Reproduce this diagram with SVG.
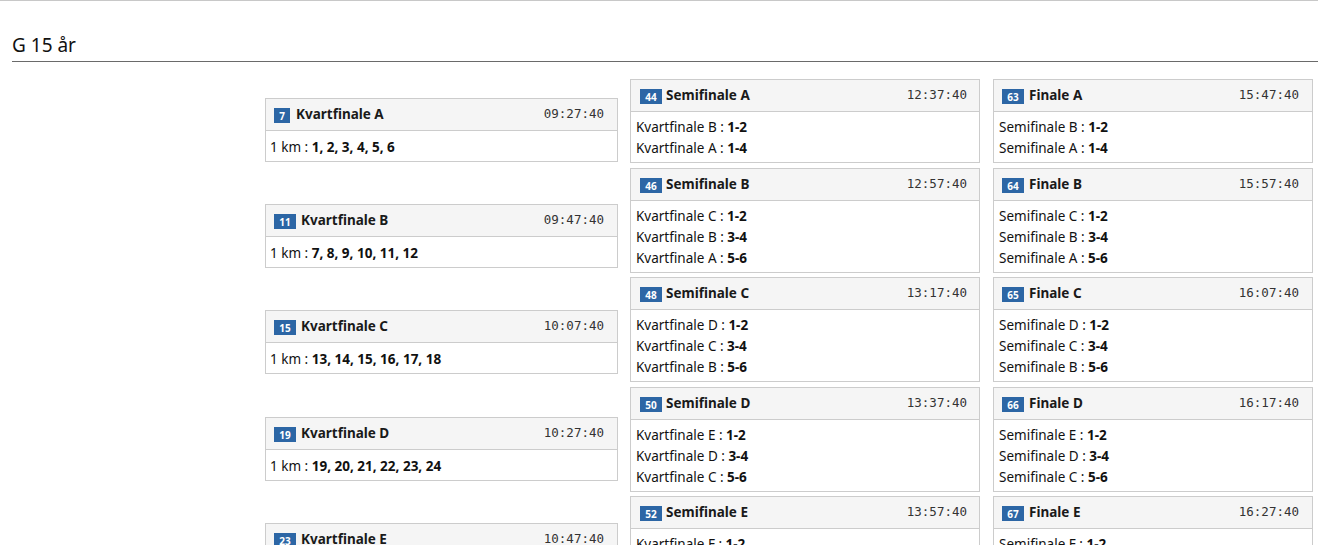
<svg xmlns="http://www.w3.org/2000/svg" width="1318" height="559" viewBox="0 0 1318 559">
<defs>
<style>
.box{fill:#fff;stroke:#cccccc;stroke-width:1}
.hd{fill:#f5f5f5;stroke:#cccccc;stroke-width:1}
.bd{fill:#2c66a5}
.bn{fill:#fff;font-family:"Noto Sans","DejaVu Sans",sans-serif;font-size:10px;font-weight:bold;text-anchor:middle}
.tt{fill:#1a1a1a;font-family:"Noto Sans","DejaVu Sans",sans-serif;font-size:13.5px;font-weight:bold}
.tm{fill:#333;font-family:"DejaVu Sans Mono","Liberation Mono",monospace;font-size:12.5px;text-anchor:end}
.tx{fill:#111;font-family:"Noto Sans","DejaVu Sans",sans-serif;font-size:13.5px}
.tx tspan{font-weight:bold}
</style>
<clipPath id="cut"><rect x="0" y="0" width="1318" height="545"/></clipPath>
</defs>
<rect x="0" y="0" width="1318" height="559" fill="#fff"/>
<line x1="0" y1="0.5" x2="1318" y2="0.5" stroke="#c8c8c8" stroke-width="1"/>
<text x="12" y="52" font-family="'Noto Sans','DejaVu Sans',sans-serif" font-size="19" fill="#111">G 15 år</text>
<line x1="12" y1="61.5" x2="1318" y2="61.5" stroke="#6a6a6a" stroke-width="1"/>
<g clip-path="url(#cut)">
<g id="kv-a">
<rect class="box" x="265.5" y="98.5" width="352" height="63"/>
<rect class="hd" x="265.5" y="98.5" width="352" height="32"/>
<rect class="bd" x="274" y="108" width="16" height="15"/><text class="bn" x="282" y="119.5">7</text>
<text class="tt" x="296" y="119">Kvartfinale A</text><text class="tm" x="604" y="118">09:27:40</text>
<text class="tx" x="270" y="151.5">1 km : <tspan>1, 2, 3, 4, 5, 6</tspan></text>
</g>
<g id="kv-b">
<rect class="box" x="265.5" y="204.5" width="352" height="63"/>
<rect class="hd" x="265.5" y="204.5" width="352" height="32"/>
<rect class="bd" x="274" y="214" width="22" height="15"/><text class="bn" x="285" y="225.5">11</text>
<text class="tt" x="301" y="225">Kvartfinale B</text><text class="tm" x="604" y="224">09:47:40</text>
<text class="tx" x="270" y="257.5">1 km : <tspan>7, 8, 9, 10, 11, 12</tspan></text>
</g>
<g id="kv-c">
<rect class="box" x="265.5" y="310.5" width="352" height="63"/>
<rect class="hd" x="265.5" y="310.5" width="352" height="32"/>
<rect class="bd" x="274" y="320" width="22" height="15"/><text class="bn" x="285" y="331.5">15</text>
<text class="tt" x="301" y="331">Kvartfinale C</text><text class="tm" x="604" y="330">10:07:40</text>
<text class="tx" x="270" y="363.5">1 km : <tspan>13, 14, 15, 16, 17, 18</tspan></text>
</g>
<g id="kv-d">
<rect class="box" x="265.5" y="417.5" width="352" height="63"/>
<rect class="hd" x="265.5" y="417.5" width="352" height="32"/>
<rect class="bd" x="274" y="427" width="22" height="15"/><text class="bn" x="285" y="438.5">19</text>
<text class="tt" x="301" y="438">Kvartfinale D</text><text class="tm" x="604" y="437">10:27:40</text>
<text class="tx" x="270" y="470.5">1 km : <tspan>19, 20, 21, 22, 23, 24</tspan></text>
</g>
<g id="kv-e">
<rect class="box" x="265.5" y="523.5" width="352" height="63"/>
<rect class="hd" x="265.5" y="523.5" width="352" height="32"/>
<rect class="bd" x="274" y="533" width="22" height="15"/><text class="bn" x="285" y="544.5">23</text>
<text class="tt" x="301" y="544">Kvartfinale E</text><text class="tm" x="604" y="543">10:47:40</text>
</g>
<g id="sf-a">
<rect class="box" x="630.5" y="79.5" width="349" height="83"/>
<rect class="hd" x="630.5" y="79.5" width="349" height="32"/>
<rect class="bd" x="640" y="89" width="22" height="15"/><text class="bn" x="651" y="100.5">44</text>
<text class="tt" x="666" y="100">Semifinale A</text><text class="tm" x="967" y="99">12:37:40</text>
<text class="tx" x="636" y="132">Kvartfinale B : <tspan>1-2</tspan></text>
<text class="tx" x="636" y="153">Kvartfinale A : <tspan>1-4</tspan></text>
</g>
<g id="sf-b">
<rect class="box" x="630.5" y="168.5" width="349" height="104"/>
<rect class="hd" x="630.5" y="168.5" width="349" height="32"/>
<rect class="bd" x="640" y="178" width="22" height="15"/><text class="bn" x="651" y="189.5">46</text>
<text class="tt" x="666" y="189">Semifinale B</text><text class="tm" x="967" y="188">12:57:40</text>
<text class="tx" x="636" y="221">Kvartfinale C : <tspan>1-2</tspan></text>
<text class="tx" x="636" y="242">Kvartfinale B : <tspan>3-4</tspan></text>
<text class="tx" x="636" y="263">Kvartfinale A : <tspan>5-6</tspan></text>
</g>
<g id="sf-c">
<rect class="box" x="630.5" y="277.5" width="349" height="104"/>
<rect class="hd" x="630.5" y="277.5" width="349" height="32"/>
<rect class="bd" x="640" y="287" width="22" height="15"/><text class="bn" x="651" y="298.5">48</text>
<text class="tt" x="666" y="298">Semifinale C</text><text class="tm" x="967" y="297">13:17:40</text>
<text class="tx" x="636" y="330">Kvartfinale D : <tspan>1-2</tspan></text>
<text class="tx" x="636" y="351">Kvartfinale C : <tspan>3-4</tspan></text>
<text class="tx" x="636" y="372">Kvartfinale B : <tspan>5-6</tspan></text>
</g>
<g id="sf-d">
<rect class="box" x="630.5" y="387.5" width="349" height="104"/>
<rect class="hd" x="630.5" y="387.5" width="349" height="32"/>
<rect class="bd" x="640" y="397" width="22" height="15"/><text class="bn" x="651" y="408.5">50</text>
<text class="tt" x="666" y="408">Semifinale D</text><text class="tm" x="967" y="407">13:37:40</text>
<text class="tx" x="636" y="440">Kvartfinale E : <tspan>1-2</tspan></text>
<text class="tx" x="636" y="461">Kvartfinale D : <tspan>3-4</tspan></text>
<text class="tx" x="636" y="482">Kvartfinale C : <tspan>5-6</tspan></text>
</g>
<g id="sf-e">
<rect class="box" x="630.5" y="496.5" width="349" height="104"/>
<rect class="hd" x="630.5" y="496.5" width="349" height="32"/>
<rect class="bd" x="640" y="506" width="22" height="15"/><text class="bn" x="651" y="517.5">52</text>
<text class="tt" x="666" y="517">Semifinale E</text><text class="tm" x="967" y="516">13:57:40</text>
<text class="tx" x="636" y="549">Kvartfinale F : <tspan>1-2</tspan></text>
</g>
<g id="fi-a">
<rect class="box" x="993.5" y="79.5" width="319" height="83"/>
<rect class="hd" x="993.5" y="79.5" width="319" height="32"/>
<rect class="bd" x="1002" y="89" width="22" height="15"/><text class="bn" x="1013" y="100.5">63</text>
<text class="tt" x="1029" y="100">Finale A</text><text class="tm" x="1299" y="99">15:47:40</text>
<text class="tx" x="999" y="132">Semifinale B : <tspan>1-2</tspan></text>
<text class="tx" x="999" y="153">Semifinale A : <tspan>1-4</tspan></text>
</g>
<g id="fi-b">
<rect class="box" x="993.5" y="168.5" width="319" height="104"/>
<rect class="hd" x="993.5" y="168.5" width="319" height="32"/>
<rect class="bd" x="1002" y="178" width="22" height="15"/><text class="bn" x="1013" y="189.5">64</text>
<text class="tt" x="1029" y="189">Finale B</text><text class="tm" x="1299" y="188">15:57:40</text>
<text class="tx" x="999" y="221">Semifinale C : <tspan>1-2</tspan></text>
<text class="tx" x="999" y="242">Semifinale B : <tspan>3-4</tspan></text>
<text class="tx" x="999" y="263">Semifinale A : <tspan>5-6</tspan></text>
</g>
<g id="fi-c">
<rect class="box" x="993.5" y="277.5" width="319" height="104"/>
<rect class="hd" x="993.5" y="277.5" width="319" height="32"/>
<rect class="bd" x="1002" y="287" width="22" height="15"/><text class="bn" x="1013" y="298.5">65</text>
<text class="tt" x="1029" y="298">Finale C</text><text class="tm" x="1299" y="297">16:07:40</text>
<text class="tx" x="999" y="330">Semifinale D : <tspan>1-2</tspan></text>
<text class="tx" x="999" y="351">Semifinale C : <tspan>3-4</tspan></text>
<text class="tx" x="999" y="372">Semifinale B : <tspan>5-6</tspan></text>
</g>
<g id="fi-d">
<rect class="box" x="993.5" y="387.5" width="319" height="104"/>
<rect class="hd" x="993.5" y="387.5" width="319" height="32"/>
<rect class="bd" x="1002" y="397" width="22" height="15"/><text class="bn" x="1013" y="408.5">66</text>
<text class="tt" x="1029" y="408">Finale D</text><text class="tm" x="1299" y="407">16:17:40</text>
<text class="tx" x="999" y="440">Semifinale E : <tspan>1-2</tspan></text>
<text class="tx" x="999" y="461">Semifinale D : <tspan>3-4</tspan></text>
<text class="tx" x="999" y="482">Semifinale C : <tspan>5-6</tspan></text>
</g>
<g id="fi-e">
<rect class="box" x="993.5" y="496.5" width="319" height="104"/>
<rect class="hd" x="993.5" y="496.5" width="319" height="32"/>
<rect class="bd" x="1002" y="506" width="22" height="15"/><text class="bn" x="1013" y="517.5">67</text>
<text class="tt" x="1029" y="517">Finale E</text><text class="tm" x="1299" y="516">16:27:40</text>
<text class="tx" x="999" y="549">Semifinale F : <tspan>1-2</tspan></text>
</g>
</g>
<g id="connectors"/>
</svg>
